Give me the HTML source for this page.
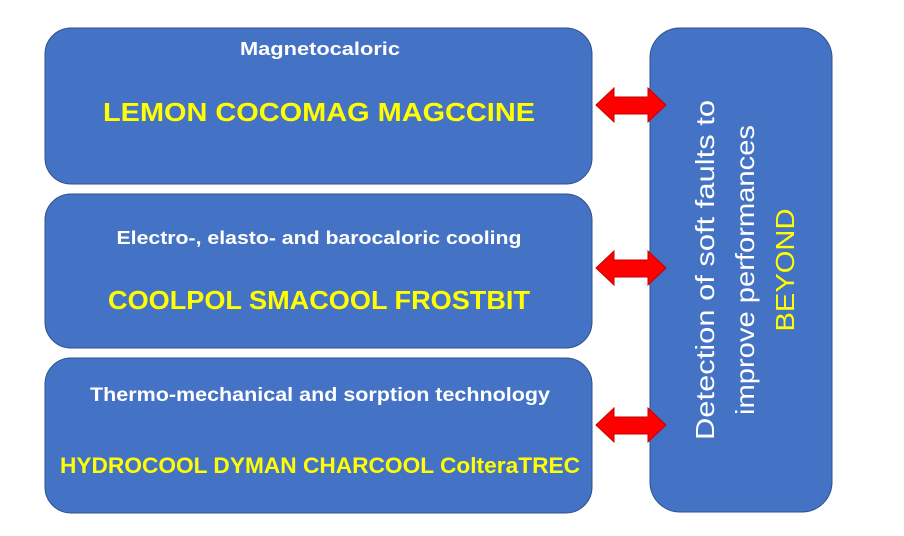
<!DOCTYPE html>
<html><head><style>body{margin:0;background:#fff}svg{display:block}</style></head>
<body>
<svg width="904" height="536" viewBox="0 0 904 536" xmlns="http://www.w3.org/2000/svg" font-family="Liberation Sans, sans-serif">
<g fill="#4472C4" stroke="#2F528F" stroke-width="1">
<rect x="45" y="28" width="547" height="156" rx="26"/>
<rect x="45" y="194" width="547" height="154" rx="26"/>
<rect x="45" y="358" width="547" height="155" rx="26"/>
<rect x="650" y="28" width="182" height="484" rx="30"/>
</g>
<g fill="#FF0000" stroke="#C00000" stroke-width="1">
<polygon points="596,105 614,88 614,97 648,97 648,88 666,105 648,122 648,114 614,114 614,122"/>
<polygon points="596,268 614,251 614,260 648,260 648,251 666,268 648,285 648,277 614,277 614,285"/>
<polygon points="596,425 614,408 614,417 648,417 648,408 666,425 648,442 648,434 614,434 614,442"/>
</g>
<g font-weight="bold" text-anchor="middle">
<text x="320" y="55" fill="#fff" font-size="18" textLength="160" lengthAdjust="spacingAndGlyphs">Magnetocaloric</text>
<text x="319" y="121" fill="#FFFF00" font-size="26" textLength="432" lengthAdjust="spacingAndGlyphs">LEMON  COCOMAG  MAGCCINE</text>
<text x="319" y="244" fill="#fff" font-size="18" textLength="405" lengthAdjust="spacingAndGlyphs">Electro-, elasto- and barocaloric cooling</text>
<text x="319" y="309" fill="#FFFF00" font-size="26" textLength="422" lengthAdjust="spacingAndGlyphs">COOLPOL SMACOOL  FROSTBIT</text>
<text x="320" y="401" fill="#fff" font-size="19" textLength="460" lengthAdjust="spacingAndGlyphs">Thermo-mechanical and sorption technology</text>
<text x="320" y="473" fill="#FFFF00" font-size="22" textLength="520" lengthAdjust="spacingAndGlyphs">HYDROCOOL  DYMAN  CHARCOOL ColteraTREC</text>
</g>
<g text-anchor="middle" font-size="26" transform="translate(741,270) rotate(-90)">
<text x="0" y="-27" fill="#fff" textLength="340" lengthAdjust="spacingAndGlyphs">Detection of soft faults to</text>
<text x="0" y="13" fill="#fff" textLength="290" lengthAdjust="spacingAndGlyphs">improve performances</text>
<text x="0" y="53" fill="#FFFF00" textLength="123" lengthAdjust="spacingAndGlyphs">BEYOND</text>
</g>
</svg>
</body></html>
